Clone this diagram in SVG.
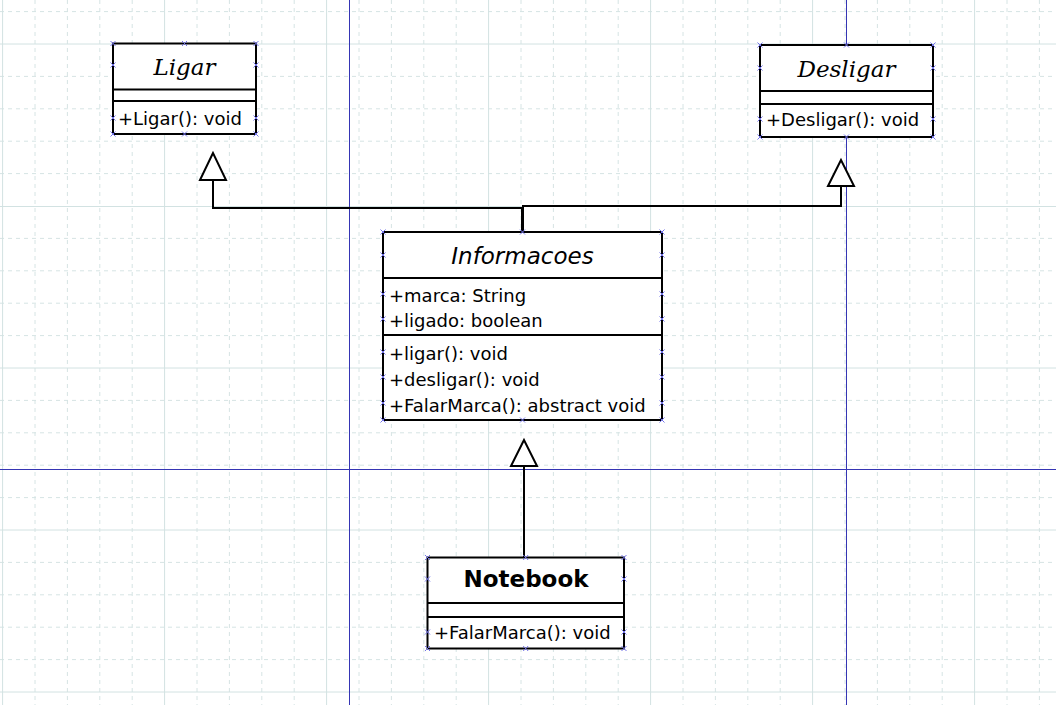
<svg xmlns="http://www.w3.org/2000/svg" xmlns:xlink="http://www.w3.org/1999/xlink" width="1056" height="705" viewBox="0 0 1056 705">
<style>
.bg{fill:#fff}
.gmin{stroke:#d6e4e4;stroke-width:1;stroke-dasharray:4 4;fill:none}
.gmaj{stroke:#d2e2e2;stroke-width:1;fill:none}
.page{stroke:#3535b4;stroke-width:1;fill:none}
.box{fill:#fff;stroke:#000;stroke-width:2}
.sep{stroke:#000;stroke-width:2}
.t{font-family:"DejaVu Sans",sans-serif;font-size:18px;fill:#000}
.ti{font-family:"DejaVu Serif",serif;font-style:italic;font-size:23px;text-anchor:middle;fill:#000}
.tis{font-family:"DejaVu Sans",sans-serif;font-style:italic;font-size:23px;text-anchor:middle;fill:#000}
.tb{font-family:"DejaVu Sans",sans-serif;font-weight:bold;font-size:23px;text-anchor:middle;fill:#000}
.conn{fill:none;stroke:#000;stroke-width:2}
.tri{fill:#fff;stroke:#000;stroke-width:2;stroke-linejoin:miter}
.pt{stroke:#7373ea;stroke-width:1;fill:none}
</style>
<defs>
<path id="x" class="pt" d="M-2.5,-2.5L2.5,2.5M-2.5,2.5L2.5,-2.5"/>
</defs>
<rect class="bg" x="0" y="0" width="1056" height="705"/>
<g id="grid">
<g class="gmin">
<path d="M35,0V705M67.4,0V705M99.8,0V705M132.2,0V705M197,0V705M229.4,0V705M261.8,0V705M294.2,0V705M359,0V705M391.4,0V705M423.8,0V705M456.2,0V705M521,0V705M553.4,0V705M585.8,0V705M618.2,0V705M683,0V705M715.4,0V705M747.8,0V705M780.2,0V705M845,0V705M877.4,0V705M909.8,0V705M942.2,0V705M1007,0V705M1039.4,0V705"/>
<path d="M0,11.6H1056M0,76.4H1056M0,108.8H1056M0,141.2H1056M0,173.6H1056M0,238.4H1056M0,270.8H1056M0,303.2H1056M0,335.6H1056M0,400.4H1056M0,432.8H1056M0,465.2H1056M0,497.6H1056M0,562.4H1056M0,594.8H1056M0,627.2H1056M0,659.6H1056"/>
</g>
<g class="gmaj">
<path d="M2.6,0V705M164.6,0V705M326.6,0V705M488.6,0V705M650.6,0V705M812.6,0V705M974.6,0V705"/>
<path d="M0,44H1056M0,206.5H1056M0,368H1056M0,530H1056M0,692H1056"/>
</g>
</g>
<g id="pages" class="page">
<path d="M349.5,0V705M846.5,0V705M0,469.5H1056"/>
</g>
<g id="connectors">
<path class="conn" d="M522,232V208H213V180"/>
<polygon class="tri" points="213,153 200,180 226,180"/>
<path class="conn" d="M523,232V206H841V186"/>
<polygon class="tri" points="841,160 828,186 854,186"/>
<path class="conn" d="M524,557V466"/>
<polygon class="tri" points="524,440 511,466 537,466"/>
</g>
<g id="Ligar">
<rect class="box" x="113" y="43.5" width="143" height="90.5"/>
<path class="sep" d="M113,89.5H256M113,101H256"/>
<text class="ti" x="184.5" y="75">Ligar</text>
<text class="t" x="118" y="125">+Ligar(): void</text>
<g>
<use xlink:href="#x" x="113" y="43.5"/><use xlink:href="#x" x="184.5" y="43.5"/><use xlink:href="#x" x="256" y="43.5"/>
<use xlink:href="#x" x="113" y="65"/><use xlink:href="#x" x="256" y="65"/>
<use xlink:href="#x" x="113" y="118"/><use xlink:href="#x" x="256" y="118"/>
<use xlink:href="#x" x="113" y="134"/><use xlink:href="#x" x="184.5" y="134"/><use xlink:href="#x" x="256" y="134"/>
</g>
</g>
<g id="Desligar">
<rect class="box" x="760" y="45" width="173" height="92"/>
<path class="sep" d="M760,91H933M760,104H933"/>
<text class="ti" x="846.5" y="77">Desligar</text>
<text class="t" x="766" y="126">+Desligar(): void</text>
<g>
<use xlink:href="#x" x="760" y="45"/><use xlink:href="#x" x="846.5" y="45"/><use xlink:href="#x" x="933" y="45"/>
<use xlink:href="#x" x="760" y="68"/><use xlink:href="#x" x="933" y="68"/>
<use xlink:href="#x" x="760" y="119"/><use xlink:href="#x" x="933" y="119"/>
<use xlink:href="#x" x="760" y="137"/><use xlink:href="#x" x="846.5" y="137"/><use xlink:href="#x" x="933" y="137"/>
</g>
</g>
<g id="Informacoes">
<rect class="box" x="383" y="232" width="279" height="188"/>
<path class="sep" d="M383,278H662M383,335H662"/>
<text class="tis" x="522.5" y="264">Informacoes</text>
<text class="t" x="389" y="301.5">+marca: String</text>
<text class="t" x="389" y="327">+ligado: boolean</text>
<text class="t" x="389" y="360">+ligar(): void</text>
<text class="t" x="389" y="385.5">+desligar(): void</text>
<text class="t" x="389" y="411.5">+FalarMarca(): abstract void</text>
<g>
<use xlink:href="#x" x="383" y="232"/><use xlink:href="#x" x="522.5" y="232"/><use xlink:href="#x" x="662" y="232"/>
<use xlink:href="#x" x="383" y="255"/><use xlink:href="#x" x="662" y="255"/>
<use xlink:href="#x" x="383" y="294"/><use xlink:href="#x" x="662" y="294"/>
<use xlink:href="#x" x="383" y="319"/><use xlink:href="#x" x="662" y="319"/>
<use xlink:href="#x" x="383" y="352"/><use xlink:href="#x" x="662" y="352"/>
<use xlink:href="#x" x="383" y="377"/><use xlink:href="#x" x="662" y="377"/>
<use xlink:href="#x" x="383" y="403"/><use xlink:href="#x" x="662" y="403"/>
<use xlink:href="#x" x="383" y="420"/><use xlink:href="#x" x="522.5" y="420"/><use xlink:href="#x" x="662" y="420"/>
</g>
</g>
<g id="Notebook">
<rect class="box" x="427.5" y="557.5" width="196.5" height="91"/>
<path class="sep" d="M427.5,603H624M427.5,617H624"/>
<text class="tb" x="526" y="587">Notebook</text>
<text class="t" x="434" y="639">+FalarMarca(): void</text>
<g>
<use xlink:href="#x" x="427.5" y="557.5"/><use xlink:href="#x" x="525.7" y="557.5"/><use xlink:href="#x" x="624" y="557.5"/>
<use xlink:href="#x" x="427.5" y="579"/><use xlink:href="#x" x="624" y="579"/>
<use xlink:href="#x" x="427.5" y="632"/><use xlink:href="#x" x="624" y="632"/>
<use xlink:href="#x" x="427.5" y="648.5"/><use xlink:href="#x" x="525.7" y="648.5"/><use xlink:href="#x" x="624" y="648.5"/>
</g>
</g>
</svg>
